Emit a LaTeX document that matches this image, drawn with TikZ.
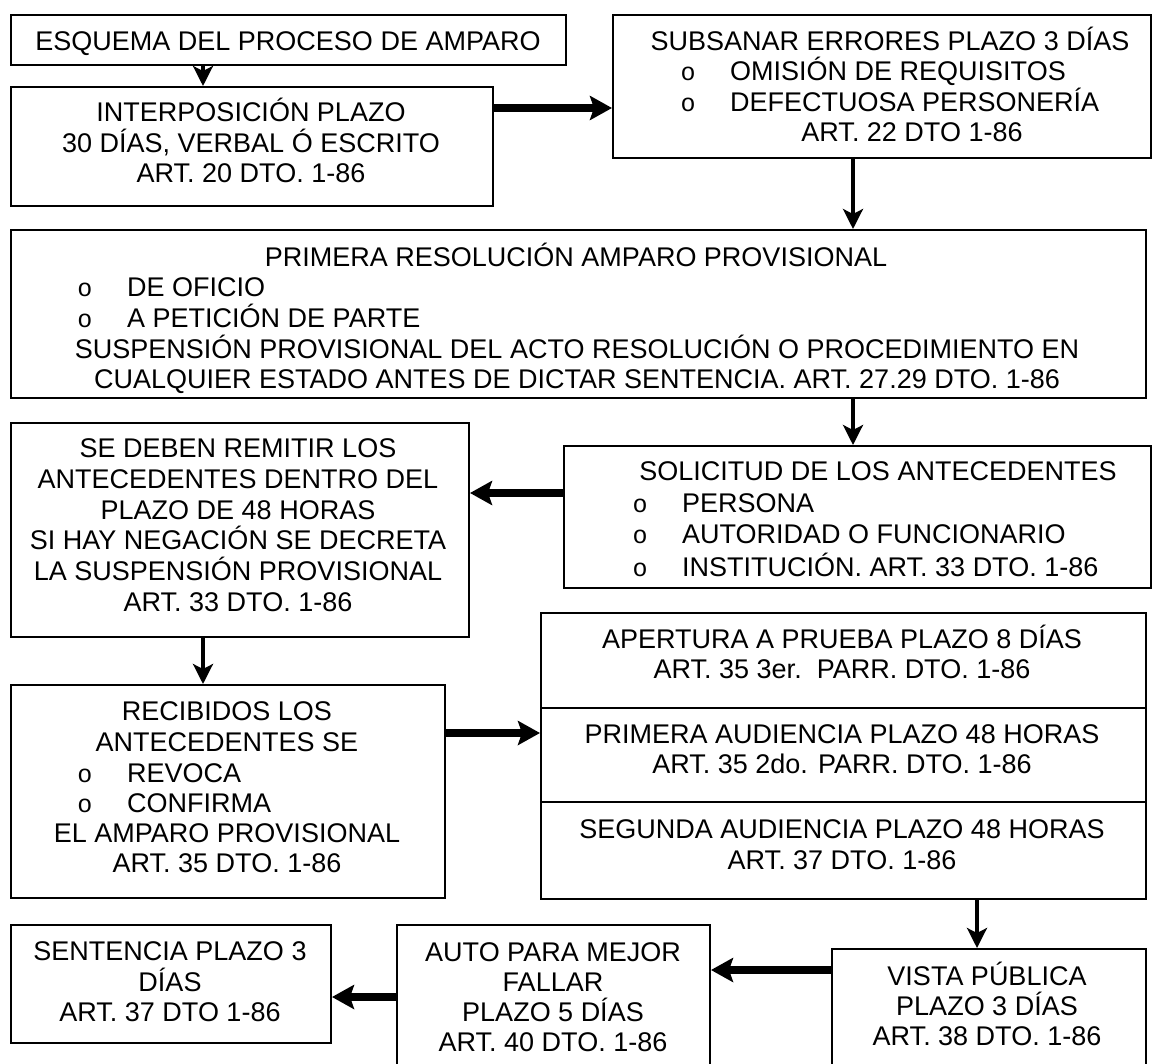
\documentclass[tikz,border=0pt]{standalone}
\usepackage{fontspec}
\setmainfont{Liberation Sans}
\newfontfamily\bulfont{Liberation Mono}
\usetikzlibrary{arrows.meta}
\begin{document}
\begin{tikzpicture}[x=1pt,y=-1pt,
  box/.style={draw, line width=2pt, anchor=north west, inner sep=0pt},
  txt/.style={anchor=base, inner sep=0pt, font=\fontsize{27}{30}\selectfont},
  ltxt/.style={anchor=base west, inner sep=0pt, font=\fontsize{27}{30}\selectfont},
  bul/.style={anchor=base, inner sep=0pt, font=\bulfont\fontsize{25}{30}\selectfont},
  thinarrow/.style={line width=3.5pt, -{Stealth[length=20pt,width=20pt,inset=5pt]}},
  thickarrow/.style={line width=8pt, -{Stealth[length=22pt,width=24pt,inset=4pt]}},
]
\fill[white] (0,0) rectangle (1154,1063);
\useasboundingbox (0,0) rectangle (1154,1063);

% boxes
\node[box, minimum width=555pt, minimum height=50pt] (A) at (10,14) {};
\node[box, minimum width=482pt, minimum height=119pt] (B) at (10,86) {};
\node[box, minimum width=538pt, minimum height=143pt] (C) at (612,14) {};
\node[box, minimum width=1135pt, minimum height=168pt] (D) at (10,229) {};
\node[box, minimum width=587pt, minimum height=142pt] (E) at (563,445) {};
\node[box, minimum width=458pt, minimum height=214pt] (F) at (10,422) {};
\node[box, minimum width=434pt, minimum height=213pt] (G) at (10,684) {};
\node[box, minimum width=605pt, minimum height=95pt] (H1) at (540,612) {};
\node[box, minimum width=605pt, minimum height=94pt] (H2) at (540,707) {};
\node[box, minimum width=605pt, minimum height=97pt] (H3) at (540,801) {};
\node[box, minimum width=314pt, minimum height=140pt] (I) at (831,948) {};
\node[box, minimum width=313pt, minimum height=160pt] (J) at (396,924) {};
\node[box, minimum width=320pt, minimum height=118pt] (K) at (10,924) {};

% texts
\node[txt] (a1) at (288,50) {ESQUEMA DEL PROCESO DE AMPARO};

\node[txt] (b1) at (251,121) {INTERPOSICIÓN PLAZO};
\node[txt] (b2) at (251,152) {30 DÍAS, VERBAL Ó ESCRITO};
\node[txt] (b3) at (251,182) {ART. 20 DTO. 1-86};

\node[txt] (c1) at (890,50) {SUBSANAR ERRORES PLAZO 3 DÍAS};
\node[bul] (c2b) at (688,80) {o};
\node[ltxt] (c2) at (730,80) {OMISIÓN DE REQUISITOS};
\node[bul] (c3b) at (688,111) {o};
\node[ltxt] (c3) at (730,111) {DEFECTUOSA PERSONERÍA};
\node[txt] (c4) at (912,141) {ART. 22 DTO 1-86};

\node[txt] (d1) at (576,266) {PRIMERA RESOLUCIÓN AMPARO PROVISIONAL};
\node[bul] (d2b) at (85,296) {o};
\node[ltxt] (d2) at (127,296) {DE OFICIO};
\node[bul] (d3b) at (85,327) {o};
\node[ltxt] (d3) at (127,327) {A PETICIÓN DE PARTE};
\node[txt] (d4) at (577,358) {SUSPENSIÓN PROVISIONAL DEL ACTO RESOLUCIÓN O PROCEDIMIENTO EN};
\node[txt] (d5) at (577,388) {CUALQUIER ESTADO ANTES DE DICTAR SENTENCIA. ART. 27.29 DTO. 1-86};

\node[txt] (e1) at (878,480) {SOLICITUD DE LOS ANTECEDENTES};
\node[bul] (e2b) at (640,512) {o};
\node[ltxt] (e2) at (682,512) {PERSONA};
\node[bul] (e3b) at (640,543) {o};
\node[ltxt] (e3) at (682,543) {AUTORIDAD O FUNCIONARIO};
\node[bul] (e4b) at (640,576) {o};
\node[ltxt] (e4) at (682,576) {INSTITUCIÓN. ART. 33 DTO. 1-86};

\node[txt] (f1) at (238,457) {SE DEBEN REMITIR LOS};
\node[txt] (f2) at (238,488) {ANTECEDENTES DENTRO DEL};
\node[txt] (f3) at (238,519) {PLAZO DE 48 HORAS};
\node[txt] (f4) at (238,549) {SI HAY NEGACIÓN SE DECRETA};
\node[txt] (f5) at (238,580) {LA SUSPENSIÓN PROVISIONAL};
\node[txt] (f6) at (238,611) {ART. 33 DTO. 1-86};

\node[txt] (g1) at (227,720) {RECIBIDOS LOS};
\node[txt] (g2) at (227,751) {ANTECEDENTES SE};
\node[bul] (g3b) at (85,782) {o};
\node[ltxt] (g3) at (127,782) {REVOCA};
\node[bul] (g4b) at (85,812) {o};
\node[ltxt] (g4) at (127,812) {CONFIRMA};
\node[txt] (g5) at (227,842) {EL AMPARO PROVISIONAL};
\node[txt] (g6) at (227,872) {ART. 35 DTO. 1-86};

\node[txt] (h1) at (842,648) {APERTURA A PRUEBA PLAZO 8 DÍAS};
\node[txt] (h2) at (842,678) {ART. 35 3er.\ \ PARR. DTO. 1-86};
\node[txt] (h3) at (842,743) {PRIMERA AUDIENCIA PLAZO 48 HORAS};
\node[txt] (h4) at (842,773) {ART. 35 2do. PARR. DTO. 1-86};
\node[txt] (h5) at (842,838) {SEGUNDA AUDIENCIA PLAZO 48 HORAS};
\node[txt] (h6) at (842,869) {ART. 37 DTO. 1-86};

\node[txt] (i1) at (987,985) {VISTA PÚBLICA};
\node[txt] (i2) at (987,1015) {PLAZO 3 DÍAS};
\node[txt] (i3) at (987,1045) {ART. 38 DTO. 1-86};

\node[txt] (j1) at (553,961) {AUTO PARA MEJOR};
\node[txt] (j2) at (553,991) {FALLAR};
\node[txt] (j3) at (553,1021) {PLAZO 5 DÍAS};
\node[txt] (j4) at (553,1051) {ART. 40 DTO. 1-86};

\node[txt] (k1) at (170,960) {SENTENCIA PLAZO 3};
\node[txt] (k2) at (170,991) {DÍAS};
\node[txt] (k3) at (170,1021) {ART. 37 DTO 1-86};

% connector guides
\coordinate (xab) at (203,0);
\coordinate (xcd) at (853,0);
\coordinate (xhi) at (977,0);
\coordinate (ybc) at (0,108);
\coordinate (yef) at (0,493);
\coordinate (ygh) at (0,733);
\coordinate (yij) at (0,970);
\coordinate (yjk) at (0,997);

% connectors
\draw[thinarrow] (A.south -| xab) -- (B.north -| xab);
\draw[thickarrow] (B.east |- ybc) -- (C.west |- ybc);
\draw[thinarrow] (C.south -| xcd) -- (D.north -| xcd);
\draw[thinarrow] (D.south -| xcd) -- (E.north -| xcd);
\draw[thickarrow] (E.west |- yef) -- (F.east |- yef);
\draw[thinarrow] (F.south -| xab) -- (G.north -| xab);
\draw[thickarrow] (G.east |- ygh) -- (H2.west |- ygh);
\draw[thinarrow] (H3.south -| xhi) -- (I.north -| xhi);
\draw[thickarrow] (I.west |- yij) -- (J.east |- yij);
\draw[thickarrow] (J.west |- yjk) -- (K.east |- yjk);
\end{tikzpicture}
\end{document}
